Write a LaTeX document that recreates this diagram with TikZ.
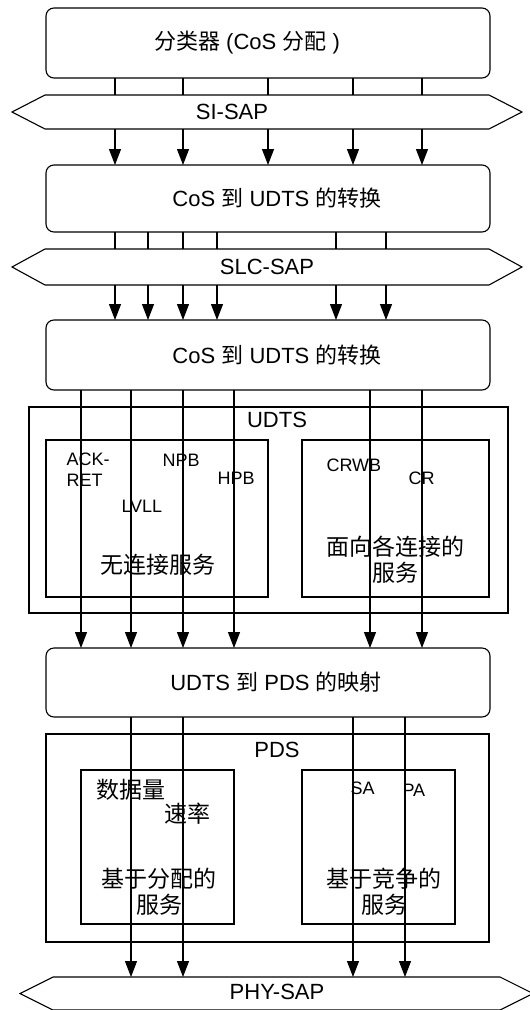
\documentclass[tikz,border=0pt]{standalone}
\usepackage{fontspec}
\setmainfont{Liberation Sans}
\newfontfamily\cjk{Noto Sans CJK SC}
\usetikzlibrary{arrows.meta}

\begin{document}
\begin{tikzpicture}[x=1pt,y=-1pt,line width=1.1pt,
    layerbox/.style={draw,rounded corners=8pt,minimum width=444pt,minimum height=70pt,inner sep=0pt,outer sep=0pt},
    sapbar/.style={minimum width=444pt,minimum height=34pt,inner sep=0pt,outer sep=0pt},
    grpbox/.style={draw,inner sep=0pt,outer sep=0pt},
    flow/.style={-{Triangle[length=16pt,width=12pt]}},
    ttl/.style={font=\fontsize{22}{26}\selectfont,inner sep=0pt},
    tagtxt/.style={font=\fontsize{18}{21}\selectfont,anchor=west,align=left,inner sep=0pt},
    svc/.style={font=\cjk\fontsize{23}{26}\selectfont,align=center,inner sep=0pt}]
  \useasboundingbox (0,0) rectangle (530,1010);
  % layers and service access points
  \node[layerbox] (cls) at (268,43) {};
  \node[ttl] (clsl) at (247,43) {{\cjk 分类器} (CoS {\cjk 分配} )};
  \node[sapbar] (si) at (267,112) {};
  \node[ttl] (sil) at (232,112) {SI-SAP};
  \node[layerbox,minimum height=67pt] (cdt) at (268,198.5) {};
  \node[ttl] (cdtl) at (277,198) {CoS {\cjk 到} UDTS {\cjk 的转换}};
  \node[sapbar,minimum height=36pt] (slc) at (267,267) {};
  \node[ttl] (slcl) at (267,267) {SLC-SAP};
  \node[layerbox] (cdu) at (268,355) {};
  \node[ttl] (cdul) at (277,355) {CoS {\cjk 到} UDTS {\cjk 的转换}};
  \node[layerbox,minimum height=69pt] (map) at (268,682.5) {};
  \node[ttl] (mapl) at (276,682) {UDTS {\cjk 到} PDS {\cjk 的映射}};
  \node[sapbar,minimum width=447pt,minimum height=33pt] (phy) at (276.5,993.5) {};
  \node[ttl] (phyl) at (277,992) {PHY-SAP};
  \foreach \s in {si,slc,phy}
    \draw (\s.north west) -- (\s.north east) -- ([xshift=33pt]\s.east) -- (\s.south east)
      -- (\s.south west) -- ([xshift=-33pt]\s.west) -- cycle;

  % UDTS
  \node[grpbox,minimum width=479pt,minimum height=206pt] (udts) at (268.5,510) {};
  \node[ttl] (udtsl) at (277,420) {UDTS};
  \node[grpbox,minimum width=222pt,minimum height=157pt] (cls-svc) at (157,518.5) {};
  \node[grpbox,minimum width=187pt,minimum height=157pt] (co-svc) at (395.5,518.5) {};
  \node[tagtxt] (ackret) at (66,470) {ACK-\\RET};
  \node[tagtxt] (npb) at (162,460) {NPB};
  \node[tagtxt] (hpb) at (217,478) {HPB};
  \node[tagtxt] (lvll) at (121,506) {LVLL};
  \node[tagtxt] (crwb) at (326,465) {CRWB};
  \node[tagtxt] (cr) at (408,478) {CR};
  \node[svc] (clsl2) at (158,565) {无连接服务};
  \node[svc] (col) at (395,560) {面向各连接的\\服务};

  % PDS
  \node[grpbox,minimum width=443pt,minimum height=208pt] (pds) at (267.5,838) {};
  \node[ttl] (pdsl) at (277,750) {PDS};
  \node[grpbox,minimum width=153pt,minimum height=154pt] (alloc) at (157.5,847) {};
  \node[grpbox,minimum width=153pt,minimum height=154pt] (cont) at (378.5,847) {};
  \node[svc,anchor=west] (vol) at (96,790) {数据量};
  \node[svc,anchor=west] (rate) at (164,814) {速率};
  \node[tagtxt] (sa) at (350,788) {SA};
  \node[tagtxt] (pa) at (402,790) {PA};
  \node[svc] (allocl) at (159,892) {基于分配的\\服务};
  \node[svc] (contl) at (384,892) {基于竞争的\\服务};

  % flows
  \foreach \x in {115,183,268,353,422} {
    \draw (cls.south -| \x,0) -- (si.north -| \x,0);
    \draw[flow] (si.south -| \x,0) -- (cdt.north -| \x,0);
  }
  \foreach \x in {115,148,183,217,336,386} {
    \draw (cdt.south -| \x,0) -- (slc.north -| \x,0);
    \draw[flow] (slc.south -| \x,0) -- (cdu.north -| \x,0);
  }
  \foreach \x in {81,131,183,234,370,422}
    \draw[flow] (cdu.south -| \x,0) -- (map.north -| \x,0);
  \foreach \x in {131,183,353,405}
    \draw[flow] (map.south -| \x,0) -- (phy.north -| \x,0);
\end{tikzpicture}
\end{document}
